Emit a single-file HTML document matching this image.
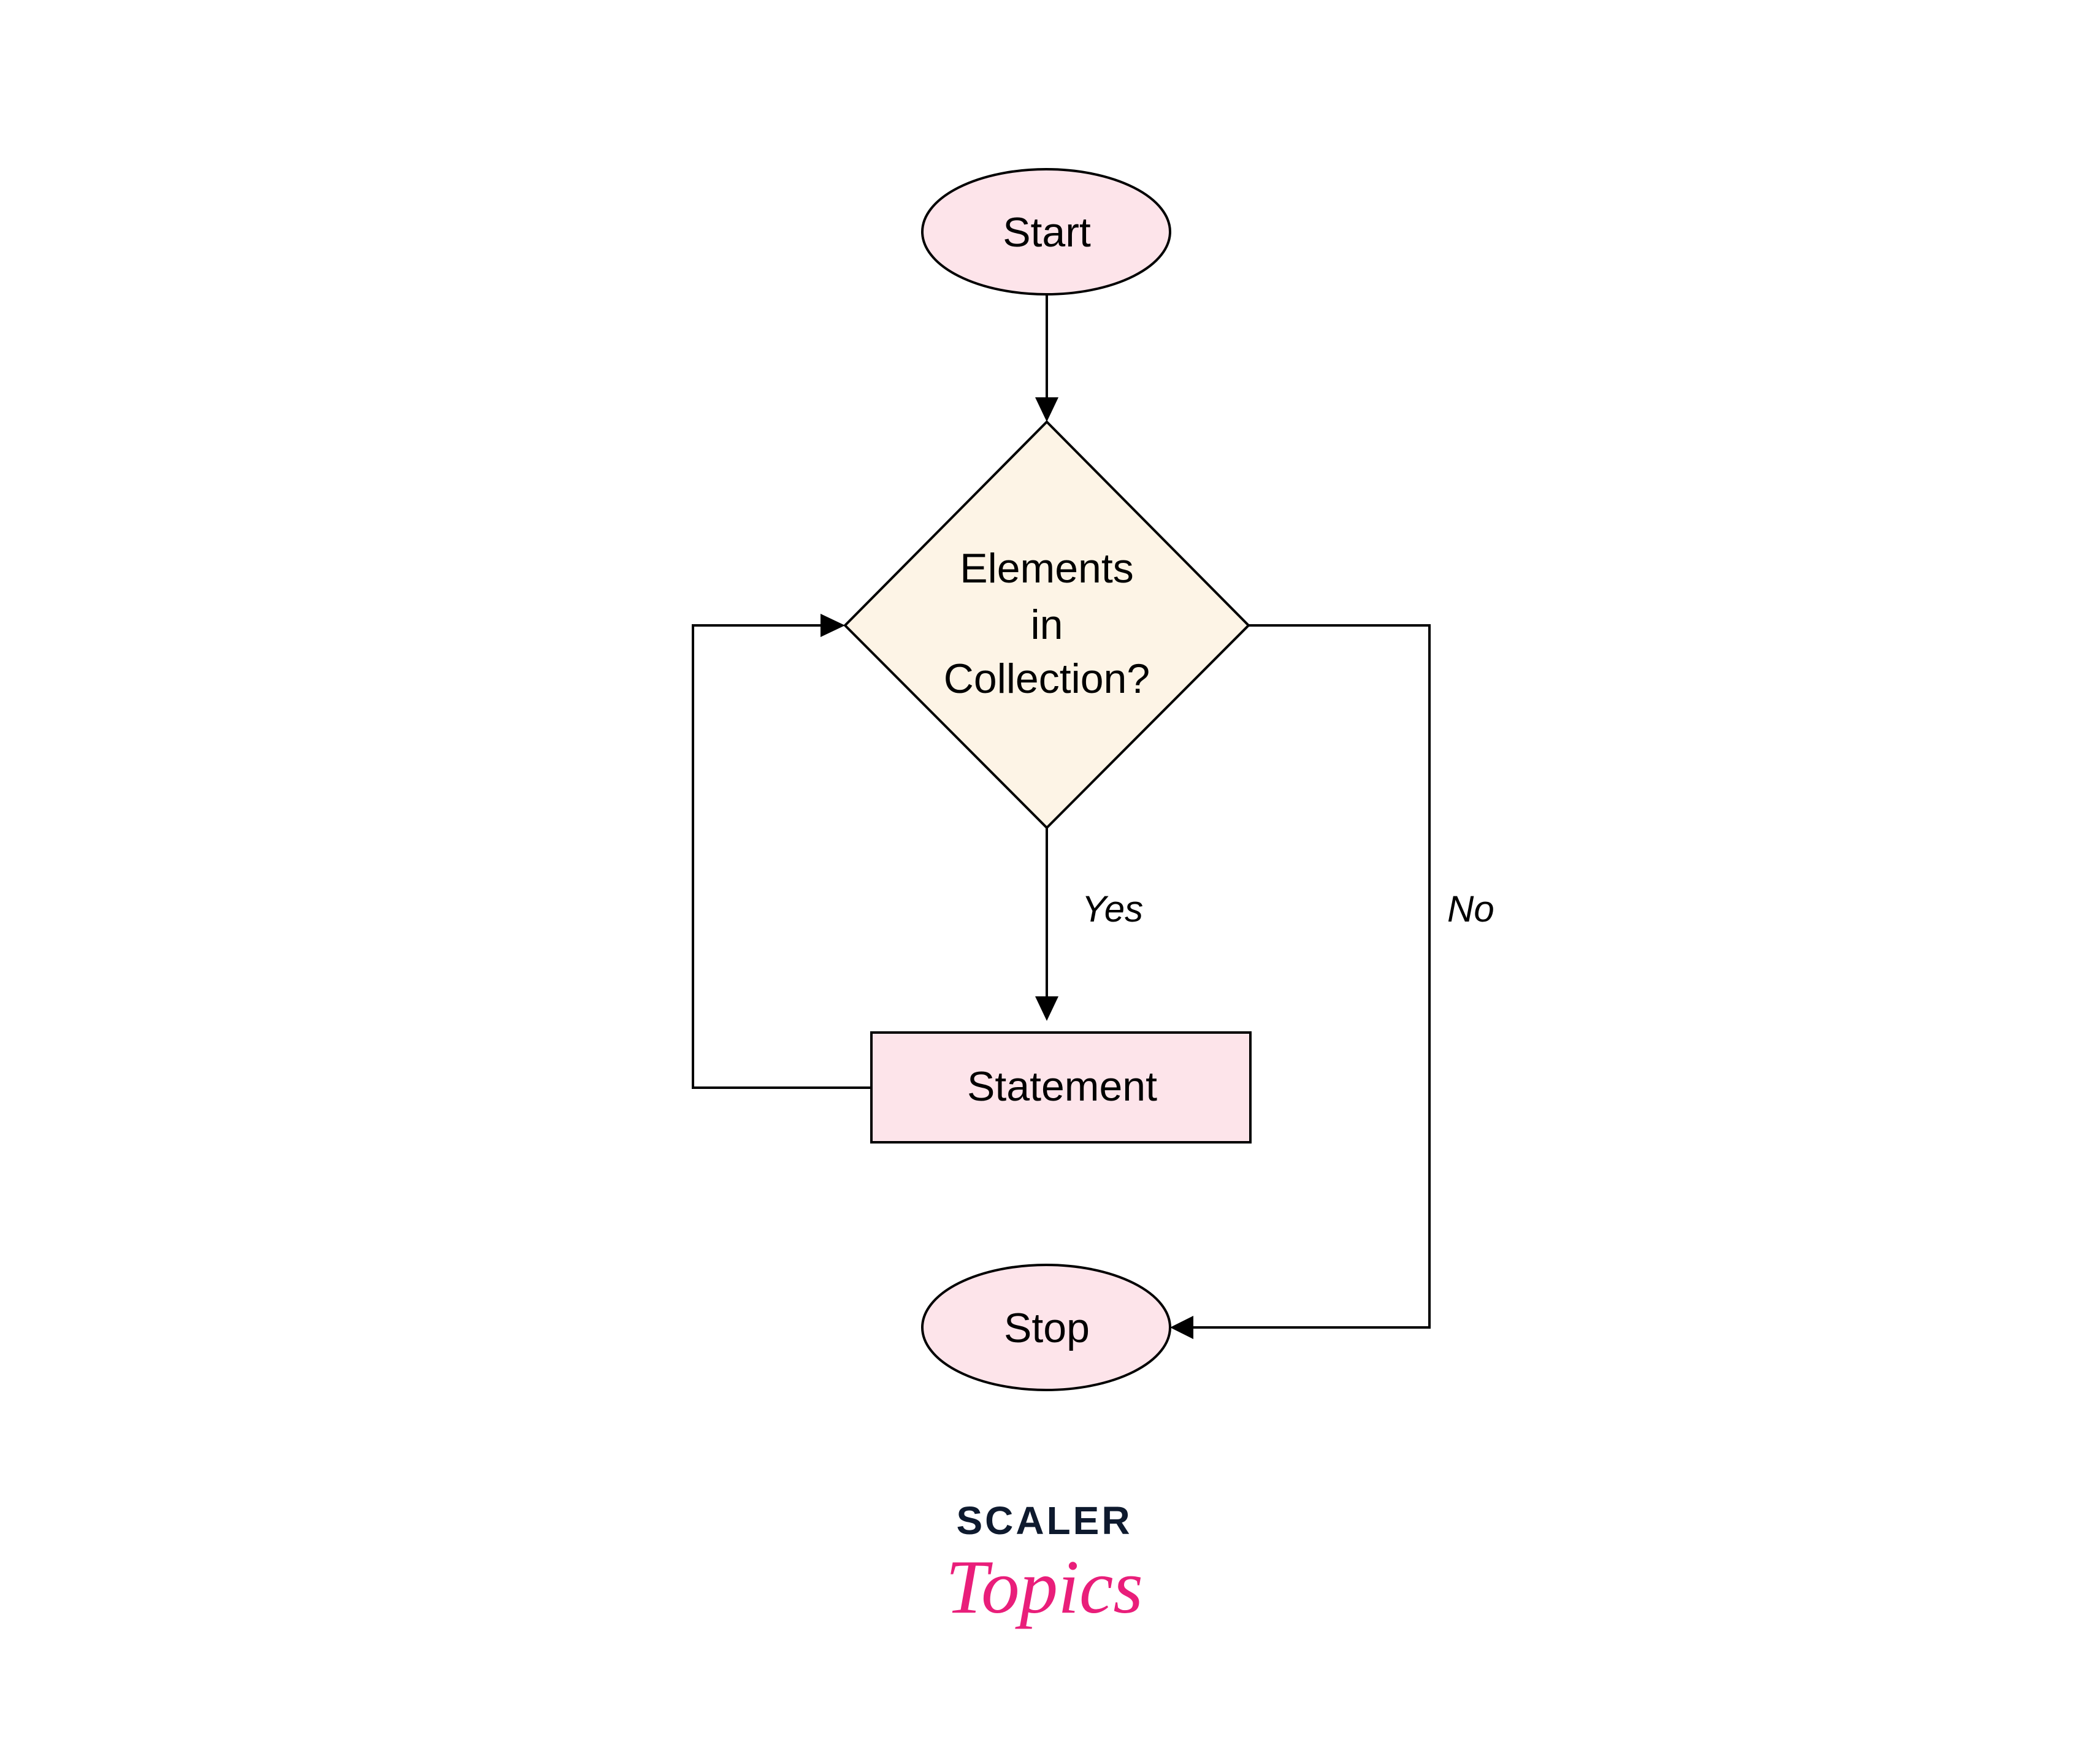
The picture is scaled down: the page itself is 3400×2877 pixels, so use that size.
<!DOCTYPE html>
<html><head><meta charset="utf-8"><style>
html,body{margin:0;padding:0;background:#fff;}
svg{display:block;}
</style></head><body>
<svg width="3400" height="2877" viewBox="0 0 3400 2877" xmlns="http://www.w3.org/2000/svg" font-family="Liberation Sans, DejaVu Sans, sans-serif">
<rect width="3400" height="2877" fill="#fff"/>
<g stroke="#000" stroke-width="4" fill="none">
  <line x1="1707" y1="481" x2="1707" y2="650"/>
  <line x1="1707" y1="1350" x2="1707" y2="1625"/>
  <polyline points="1421,1774 1130,1774 1130,1020 1340,1020"/>
  <polyline points="2036,1020 2331,1020 2331,2165 1944,2165"/>
</g>
<g fill="#000">
  <polygon points="1688,648 1726,648 1707,688"/>
  <polygon points="1688,1625 1726,1625 1707,1665"/>
  <polygon points="1338,1001 1338,1039 1378,1020"/>
  <polygon points="1946,2146 1946,2184 1908,2165"/>
</g>
<ellipse cx="1706" cy="378" rx="202" ry="102" fill="#fde4ea" stroke="#000" stroke-width="4"/>
<polygon points="1707,688 2036,1020 1707,1350 1378,1020" fill="#fdf4e6" stroke="#000" stroke-width="4"/>
<rect x="1421" y="1684" width="618" height="179" fill="#fde4ea" stroke="#000" stroke-width="4"/>
<ellipse cx="1706" cy="2165" rx="202" ry="102" fill="#fde4ea" stroke="#000" stroke-width="4"/>
<g font-size="68" fill="#000" text-anchor="middle">
  <text x="1707" y="402">Start</text>
  <text x="1707" y="950">Elements</text>
  <text x="1707" y="1042">in</text>
  <text x="1707" y="1130">Collection?</text>
  <text x="1732" y="1795">Statement</text>
  <text x="1707" y="2189">Stop</text>
</g>
<g font-size="60" font-style="italic" fill="#000">
  <text x="1764" y="1503">Yes</text>
  <text x="2360" y="1503">No</text>
</g>
<text x="1703" y="2502" font-size="64" font-weight="bold" fill="#0e1a2e" text-anchor="middle" letter-spacing="4">SCALER</text>
<text x="1703" y="2630" font-family="Liberation Serif, serif" font-style="italic" font-size="125" fill="#e91e7a" text-anchor="middle">Topics</text>
</svg>
</body></html>
